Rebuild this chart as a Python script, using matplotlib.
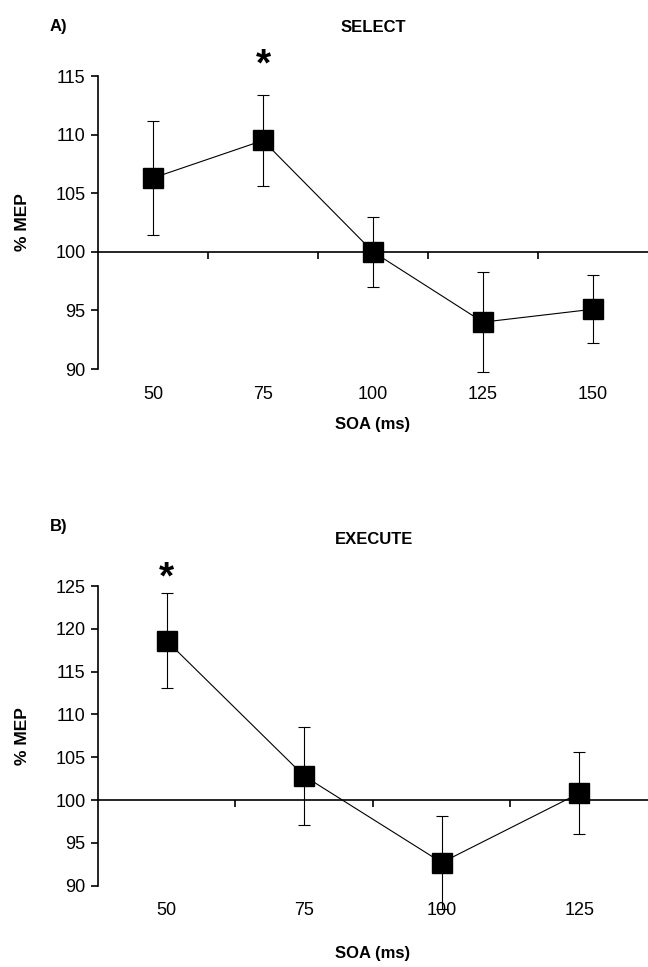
import matplotlib
matplotlib.use("Agg")
import matplotlib.pyplot as plt
import numpy as np

plt.rcParams["font.family"] = ["Liberation Sans", "DejaVu Sans"]

# ─── Data ────────────────────────────────────────────────────────────────────
select_soa = ["50", "75", "100", "125", "150"]
select_mep = [106.3, 109.5, 100.0, 94.0, 95.1]
select_err = [4.85, 3.9, 3.0, 4.25, 2.9]
select_star = "75"

execute_soa = ["50", "75", "100", "125"]
execute_mep = [118.6, 102.8, 92.7, 100.8]
execute_err = [5.55, 5.7, 5.4, 4.77]
execute_star = "50"

baseline = 100


def draw_panel(ax, soa, mep, err, star, ylim, yticks):
    x = np.arange(len(soa))
    ax.errorbar(x, mep, yerr=err, fmt="none", ecolor="black", elinewidth=0.8,
                capsize=4, capthick=0.8, clip_on=False, zorder=2)
    ax.plot(x, mep, color="black", linewidth=0.8, marker="s", markersize=14,
            markerfacecolor="black", markeredgecolor="black", clip_on=False,
            zorder=3)

    ax.set_xlim(-0.5, len(soa) - 0.5)
    ax.set_ylim(*ylim)
    ax.set_yticks(yticks)
    ax.tick_params(axis="y", direction="out", length=5, width=1.2,
                   labelsize=13, pad=4)
    ax.set_xticks(x)
    ax.set_xticklabels(soa)
    ax.tick_params(axis="x", length=0, labelsize=13, pad=12)

    for side in ("top", "right", "bottom"):
        ax.spines[side].set_visible(False)
    ax.spines["left"].set_linewidth(1.2)

    # category axis crossing at the baseline
    loc = (baseline - ylim[0]) / (ylim[1] - ylim[0])
    sec = ax.secondary_xaxis(loc)
    sec.set_xticks(x[:-1] + 0.5)
    sec.set_xticklabels([])
    sec.tick_params(direction="out", length=5, width=1.2)
    sec.spines["bottom"].set_linewidth(1.2)

    # significance marker
    ax.text(soa.index(star), ylim[1] + 0.9, "*", ha="center", va="center",
            fontsize=28, fontweight="bold")

    ax.set_ylabel("% MEP", fontsize=12.5, fontweight="bold", labelpad=18)
    ax.set_xlabel("SOA (ms)", fontsize=12, fontweight="bold")


fig = plt.figure(figsize=(6.48, 9.67), dpi=100, facecolor="white")

# ── A) SELECT ────────────────────────────────────────────────────────────────
ax1 = fig.add_axes([0.1512, 0.6184, 0.8488, 0.303])
draw_panel(ax1, select_soa, select_mep, select_err, select_star,
           (90, 115), [90, 95, 100, 105, 110, 115])
ax1.xaxis.set_label_coords(0.5, -0.165)
fig.text(0.5767, 1 - 27 / 967, "SELECT", ha="center", va="center",
         fontsize=12, fontweight="bold")
fig.text(50 / 648, 1 - 27 / 967, "A)", ha="left", va="center",
         fontsize=12, fontweight="bold")

# ── B) EXECUTE ───────────────────────────────────────────────────────────────
ax2 = fig.add_axes([0.1512, 0.0841, 0.8488, 0.3099])
draw_panel(ax2, execute_soa, execute_mep, execute_err, execute_star,
           (90, 125), [90, 95, 100, 105, 110, 115, 120, 125])
ax2.xaxis.set_label_coords(0.5, -0.2)
fig.text(0.5767, 1 - 540 / 967, "EXECUTE", ha="center", va="center",
         fontsize=12, fontweight="bold")
fig.text(50 / 648, 1 - 527 / 967, "B)", ha="left", va="center",
         fontsize=12, fontweight="bold")

fig.savefig("out.png", dpi=100, facecolor="white")
